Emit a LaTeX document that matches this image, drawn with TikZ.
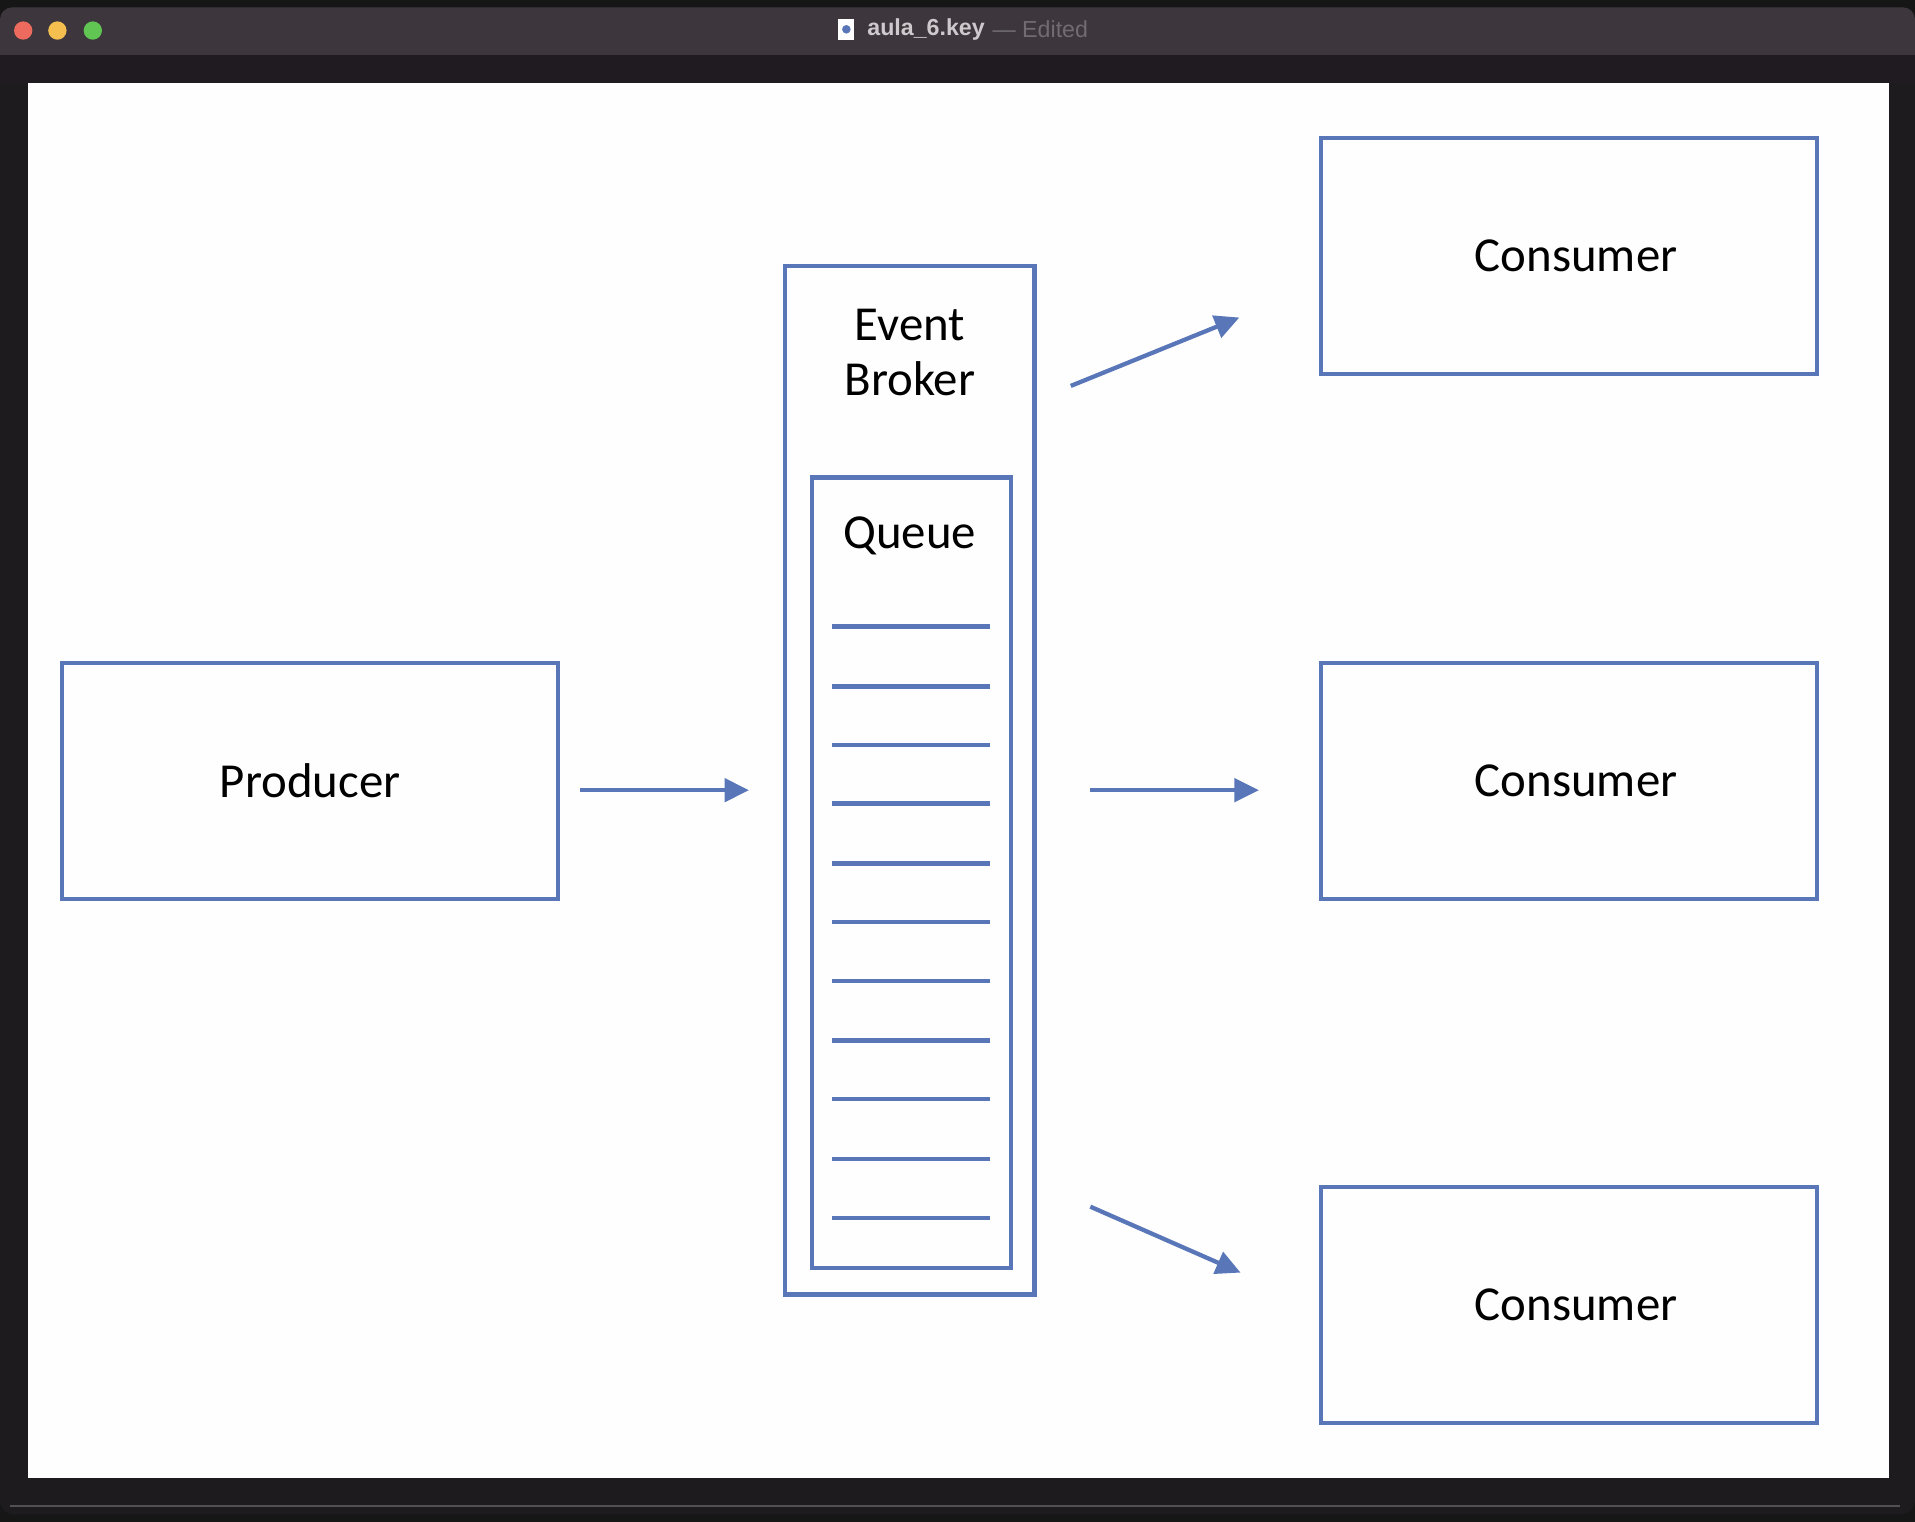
\documentclass[tikz,border=0pt]{standalone}
\usepackage{fontspec}
\setmainfont{Carlito}
\newfontfamily\titlefont{Liberation Sans}
\usetikzlibrary{arrows.meta}

\definecolor{kblue}{RGB}{88,118,184}
\definecolor{winbg}{RGB}{30,27,30}
\definecolor{topbg}{RGB}{22,22,23}
\definecolor{titlebar}{RGB}{61,55,61}
\definecolor{bandbg}{RGB}{31,27,32}
\definecolor{titletext}{RGB}{205,201,205}
\definecolor{edittext}{RGB}{112,108,112}
\definecolor{slidebg}{RGB}{254,254,254}
\definecolor{edgeline}{RGB}{82,80,83}
\definecolor{lightred}{RGB}{236,106,94}
\definecolor{lightyellow}{RGB}{244,191,79}
\definecolor{lightgreen}{RGB}{97,197,84}

\tikzset{
  box/.style={draw=kblue, line width=3.5pt, inner sep=0pt,
    minimum width=406pt, minimum height=193pt,
    font=\fontsize{40}{45}\selectfont},
  label40/.style={inner sep=0pt, align=center, font=\fontsize{40}{45}\selectfont},
  flow/.style={draw=kblue, line width=3.5pt, -{Triangle[length=20pt,width=19pt]}},
  slot/.style={draw=kblue, line width=3.5pt},
  lamp/.style={circle, inner sep=0pt, minimum size=15pt},
}

\begin{document}
\begin{tikzpicture}[x=1pt,y=-1pt]
\fill[topbg] (0,0) rectangle (1568,1246);
\useasboundingbox (0,0) rectangle (1568,1246);

% window frame
\fill[winbg, rounded corners=12pt] (0,6) rectangle (1568,1240);
\fill[titlebar, rounded corners=10pt] (0,6) rectangle (1568,60);
\fill[bandbg] (0,45) rectangle (1568,68);
\fill[slidebg] (23,68) rectangle (1547,1210);
\draw[edgeline, line width=2pt] (8,1233) -- (1556,1233);

\node[lamp, fill=lightred]    (close) at (19,25) {};
\node[lamp, fill=lightyellow] (mini)  at (47,25) {};
\node[lamp, fill=lightgreen]  (zoom)  at (76,25) {};

\node[fill=white, minimum width=13pt, minimum height=17pt, inner sep=0pt] (icon) at (693,24) {};
\node[fill=kblue, circle, minimum size=7pt, inner sep=0pt] (icondot) at (icon.center) {};
\node[anchor=west, inner sep=0pt, text=titletext,
  font=\titlefont\bfseries\fontsize{19}{22}\selectfont] (title) at (710,24) {aula\_6.key};
\node[anchor=west, inner sep=0pt, text=edittext,
  font=\titlefont\fontsize{19}{22}\selectfont] (edited) at ([xshift=6pt]title.east) {— Edited};

% diagram
\node[box] (producer)  at (254,639.5)   {Producer};
\node[box] (consumerA) at (1284.5,209.5) {\hspace*{12pt}Consumer};
\node[box] (consumerB) at (1284.5,639.5) {\hspace*{12pt}Consumer};
\node[box] (consumerC) at (1284.5,1068.5) {\hspace*{12pt}Consumer};

\node[box, minimum width=204pt, minimum height=842pt] (broker) at (745,639) {};
\node[box, minimum width=163pt, minimum height=647pt] (queue) at (746.5,714.5) {};
\node[label40] (brokerlabel) at (745,289) {Event\\Broker};
\node[label40] (queuelabel) at (745,439) {Queue};

\foreach \y in {513,562,610,658,707,755,803,852,900,949,997}
  \draw[slot] (681,\y) -- (811,\y);

\draw[flow] ([xshift=16pt,yshift=-7.5pt]producer.east) -- ([xshift=-28pt,yshift=-8pt]broker.west);
\draw[flow] ([xshift=28pt,yshift=323pt]broker.east) -- ([xshift=-65pt,yshift=-50.5pt]consumerA.west);
\draw[flow] ([xshift=44pt,yshift=-8pt]broker.east) -- ([xshift=-49pt,yshift=-7.5pt]consumerB.west);
\draw[flow] ([xshift=44pt,yshift=-349pt]broker.east) -- ([xshift=-64pt,yshift=26.5pt]consumerC.west);

\end{tikzpicture}
\end{document}
